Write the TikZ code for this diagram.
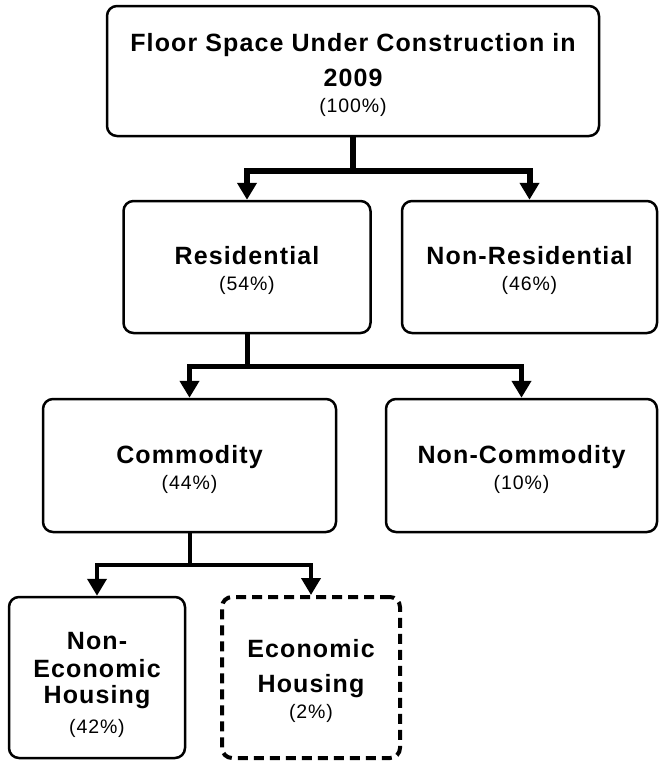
\documentclass[tikz,border=0pt]{standalone}
\usepackage{fontspec}
\setmainfont{Liberation Sans}[LetterSpace=4.5]
\usepackage{tikz}
\usetikzlibrary{arrows.meta}
\newcommand{\ttl}[1]{{\fontsize{25}{26}\selectfont\bfseries #1}}

\begin{document}
\begin{tikzpicture}[x=1pt, y=-1pt]
	\tikzstyle{box} = [draw, line width=2.5pt, rounded corners=10pt, align=center, inner sep=0pt, font=\fontsize{19.5}{26}\selectfont]
	\tikzstyle{dashbox} = [box, line width=4pt, dash pattern=on 10pt off 6pt]
	\tikzstyle{link} = [line width=6pt]
	\tikzstyle{tip} = [-{Triangle[width=19pt, length=17pt]}]
	\useasboundingbox (0,0) rectangle (659,761);
	\node[box, minimum width=492pt, minimum height=130pt] (total) at (353,71) {\\\ttl{Floor Space Under Construction in}\\[9pt]\ttl{2009}\\(100\%)};
	\node[box, minimum width=247pt, minimum height=132pt] (res) at (247,267) {\\\ttl{Residential}\\(54\%)};
	\node[box, minimum width=255pt, minimum height=132pt] (nonres) at (529.5,267) {\\\ttl{Non-Residential}\\(46\%)};
	\node[box, minimum width=293pt, minimum height=133pt] (com) at (189.5,465.5) {\\\ttl{Commodity}\\(44\%)};
	\node[box, minimum width=271pt, minimum height=133pt] (noncom) at (521.5,465.5) {\\\ttl{Non-Commodity}\\(10\%)};
	\node[box, minimum width=176pt, minimum height=161pt] (noneco) at (97,677.5) {\\[6pt]\ttl{Non-}\\[2pt]\ttl{Economic}\\\ttl{Housing}\\[4pt](42\%)};
	\node[dashbox, minimum width=178pt, minimum height=161pt] (eco) at (311,677.5) {\\\ttl{Economic}\\[9pt]\ttl{Housing}\\(2\%)};
	% junctions
	\coordinate (j1) at ([yshift=-34pt]total.south);
	\coordinate (j2) at ([yshift=-32pt]res.south);
	\coordinate (j3) at ([yshift=-32pt]com.south);
	\draw[link] (total) -- (j1);
	\draw[link, tip] (j1) -| (res);
	\draw[link, tip] (j1) -| (nonres);
	\draw[link, line width=5pt] (res) -- (j2);
	\draw[link, tip, line width=5pt] (j2) -| (com);
	\draw[link, tip, line width=5pt] (j2) -| (noncom);
	\draw[link, line width=4pt] (com) -- (j3);
	\draw[link, tip, line width=4pt] (j3) -| (noneco);
	\draw[link, tip, line width=4pt] (j3) -| (eco);
\end{tikzpicture}
\end{document}
